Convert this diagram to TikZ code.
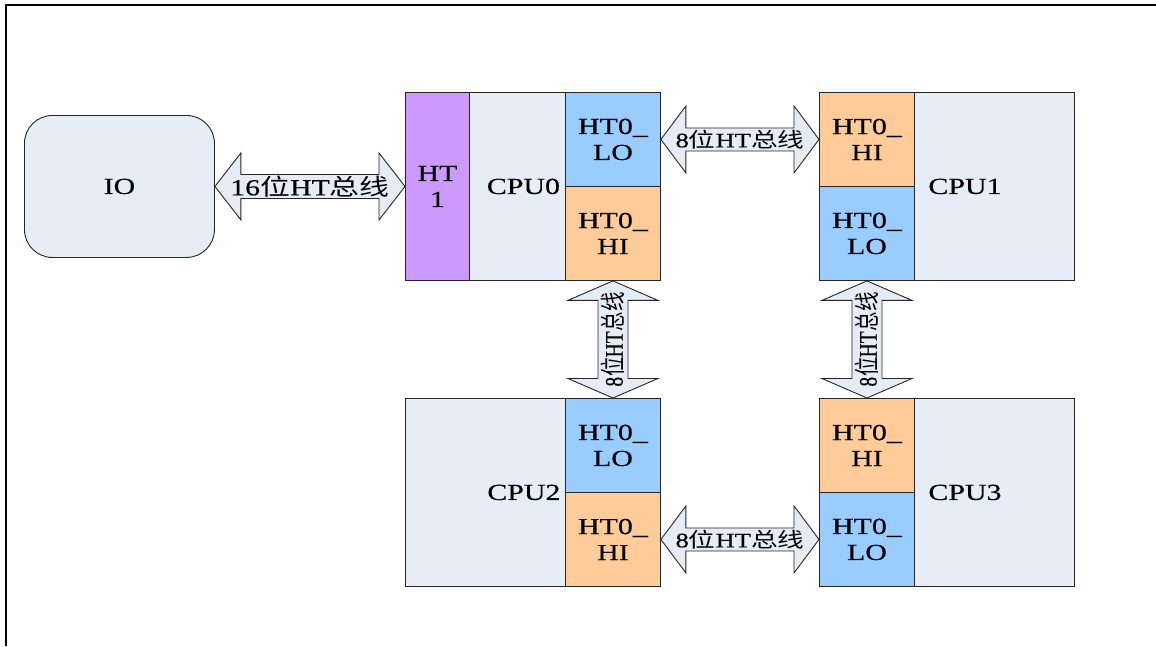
\documentclass[tikz,border=0pt]{standalone}
\usepackage{fontspec}
\setmainfont{Liberation Serif}[FakeStretch=1.3,FakeBold=0.4]
\newfontfamily\plainrm{Liberation Serif}[FakeBold=0.4]
\newfontfamily\cjk{Noto Sans CJK SC}[FakeStretch=1.3]
\newfontfamily\cjkplain{Noto Sans CJK SC}
\usetikzlibrary{calc}
\definecolor{bodyc}{HTML}{E7EDF7}
\definecolor{purc}{HTML}{CC99FF}
\definecolor{bluec}{HTML}{99CCFF}
\definecolor{orac}{HTML}{FFCC99}
\definecolor{edgec}{HTML}{262626}
\definecolor{arrc}{HTML}{E6ECF6}
\newcommand\mkharrow[5]{%
 \draw[barrow] let \p1=(#1), \p2=(#2) in
 (\x1,\y1) -- (\x1+#3pt,\y1+#4pt) -- (\x1+#3pt,\y1+#5pt) -- (\x2-#3pt,\y2+#5pt)
 -- (\x2-#3pt,\y2+#4pt) -- (\x2,\y2) -- (\x2-#3pt,\y2-#4pt) -- (\x2-#3pt,\y2-#5pt)
 -- (\x1+#3pt,\y1-#5pt) -- (\x1+#3pt,\y1-#4pt) -- cycle;}
\newcommand\mkvarrow[5]{%
 \draw[barrow] let \p1=(#1), \p2=(#2) in
 (\x1,\y1) -- (\x1+#4pt,\y1-#3pt) -- (\x1+#5pt,\y1-#3pt) -- (\x2+#5pt,\y2+#3pt)
 -- (\x2+#4pt,\y2+#3pt) -- (\x2,\y2) -- (\x2-#4pt,\y2+#3pt) -- (\x2-#5pt,\y2+#3pt)
 -- (\x1-#5pt,\y1-#3pt) -- (\x1-#4pt,\y1-#3pt) -- cycle;}
\begin{document}
\begin{tikzpicture}[x=1pt,y=-1pt,
  blk/.style={draw=edgec,line width=0.9pt,inner sep=0pt,anchor=north west,align=center,
    font=\fontsize{23}{26}\selectfont},
  body/.style={blk,fill=bodyc,minimum height=188pt},
  port/.style={blk,minimum width=95pt,minimum height=94pt},
  lo/.style={port,fill=bluec},
  hi/.style={port,fill=orac},
  txt/.style={inner sep=0pt,font=\fontsize{23}{26}\selectfont},
  barrow/.style={draw=edgec,line width=0.9pt,fill=arrc,miter limit=20},
  hlbl/.style={inner sep=0pt,font=\fontsize{20.5}{22}\selectfont},
  vlbl/.style={inner sep=0pt,rotate=90}
]
\useasboundingbox (0,0) rectangle (1156,646);
\fill[white] (0,0) rectangle (1156,646);
\draw[line width=2.2pt] (6,646) -- (6,5) -- (1156,5);

% IO
\node[draw=edgec,line width=0.9pt,fill=bodyc,rounded corners=28pt,minimum width=190pt,
  minimum height=142pt,anchor=north west,font=\fontsize{23}{26}\selectfont] (io) at (24,115) {IO};

% CPU0
\node[blk,fill=purc,minimum width=64pt,minimum height=188pt] (ht1) at (405,92) {HT\\1};
\node[body,minimum width=96pt] (cpu0) at (469,92) {};
\node[lo] (lo0) at (565,92) {HT0\_\\LO};
\node[hi] (hi0) at (565,186) {HT0\_\\HI};
\node[txt] at ($(cpu0.center)+(6,0)$) {CPU0};

% CPU1
\node[hi] (hi1) at (819,92) {HT0\_\\HI};
\node[lo] (lo1) at (819,186) {HT0\_\\LO};
\node[body,minimum width=160pt] (cpu1) at (914,92) {};
\node[txt] at ($(cpu1.west)+(51,0)$) {CPU1};

% CPU2
\node[body,minimum width=160pt] (cpu2) at (405,398) {};
\node[lo] (lo2) at (565,398) {HT0\_\\LO};
\node[hi] (hi2) at (565,492) {HT0\_\\HI};
\node[txt] at ($(cpu2.east)+(-42,0)$) {CPU2};

% CPU3
\node[hi] (hi3) at (819,398) {HT0\_\\HI};
\node[lo] (lo3) at (819,492) {HT0\_\\LO};
\node[body,minimum width=160pt] (cpu3) at (914,398) {};
\node[txt] at ($(cpu3.west)+(51,0)$) {CPU3};

% arrows
\mkharrow{io.east}{ht1.west}{26}{33.5}{12}
\mkharrow{lo0.east}{hi1.west}{25}{33.5}{11.5}
\mkharrow{hi2.east}{lo3.west}{25}{33.5}{11.5}
\mkvarrow{hi0.south}{lo2.north}{19.5}{45}{15}
\mkvarrow{lo1.south}{hi3.north}{19.5}{45}{15}

\node[hlbl,font=\fontsize{23}{24}\selectfont] at ($(io.east)!0.5!(ht1.west)$) {16{\cjk 位}HT{\cjk 总线}};
\node[hlbl] at ($(lo0.east)!0.5!(hi1.west)$) {8{\cjk 位}HT{\cjk 总线}};
\node[hlbl] at ($(hi2.east)!0.5!(lo3.west)$) {8{\cjk 位}HT{\cjk 总线}};
\node[vlbl] at ($(hi0.south)!0.5!(lo2.north)$) {\scalebox{1}[1.3]{\plainrm\fontsize{19.5}{20}\selectfont 8{\cjkplain 位}HT{\cjkplain 总线}}};
\node[vlbl] at ($(lo1.south)!0.5!(hi3.north)$) {\scalebox{1}[1.3]{\plainrm\fontsize{19.5}{20}\selectfont 8{\cjkplain 位}HT{\cjkplain 总线}}};
\end{tikzpicture}
\end{document}
